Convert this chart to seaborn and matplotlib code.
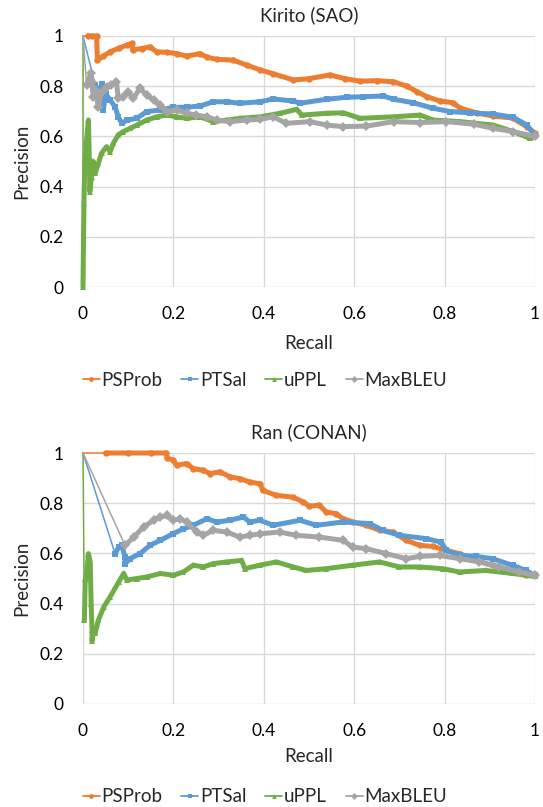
import matplotlib
matplotlib.use("Agg")
import matplotlib.pyplot as plt
from matplotlib.lines import Line2D
import pandas as pd
import seaborn as sns

# --- data: (recall, precision) per method ---
methods = ["PSProb", "PTSal", "uPPL", "MaxBLEU"]
colors = ["#ED7D31", "#5B9BD5", "#70AD47", "#A5A5A5"]
marker_shapes = ["o", "s", "^", "D"]
panel_titles = ["Kirito (SAO)", "Ran (CONAN)"]
ticks = [0, 0.2, 0.4, 0.6, 0.8, 1]
tick_labels = ["0", "0.2", "0.4", "0.6", "0.8", "1"]

kirito_psprob_r = [0, 0.01, 0.02, 0.03, 0.032, 0.045, 0.06, 0.08, 0.097, 0.108, 0.11, 0.13, 0.148,
                   0.163, 0.185, 0.207, 0.229, 0.259, 0.275, 0.296, 0.332, 0.362, 0.392, 0.42, 0.465,
                   0.5, 0.546, 0.58, 0.613, 0.65, 0.686, 0.717, 0.739, 0.761, 0.79, 0.819, 0.834,
                   0.872, 0.907, 0.951, 0.982, 1.0]
kirito_psprob_p = [1, 1, 1, 1, 0.904, 0.92, 0.937, 0.952, 0.964, 0.971, 0.945, 0.95, 0.957,
                   0.937, 0.935, 0.93, 0.92, 0.93, 0.915, 0.907, 0.904, 0.884, 0.865, 0.85, 0.825,
                   0.83, 0.845, 0.83, 0.82, 0.822, 0.818, 0.80, 0.778, 0.758, 0.741, 0.734, 0.713,
                   0.693, 0.681, 0.673, 0.638, 0.613]

kirito_ptsal_r = [0, 0.027, 0.035, 0.041, 0.045, 0.05, 0.06, 0.071, 0.078, 0.086, 0.097, 0.119,
                  0.141, 0.17, 0.2, 0.229, 0.259, 0.288, 0.318, 0.347, 0.392, 0.421, 0.465, 0.48,
                  0.539, 0.583, 0.62, 0.664, 0.687, 0.731, 0.775, 0.812, 0.856, 0.908, 0.952,
                  0.982, 1.0]
kirito_ptsal_p = [1, 0.805, 0.76, 0.81, 0.705, 0.77, 0.745, 0.718, 0.678, 0.652, 0.665, 0.672,
                  0.699, 0.705, 0.716, 0.716, 0.721, 0.738, 0.738, 0.732, 0.738, 0.749, 0.741, 0.732,
                  0.748, 0.756, 0.758, 0.761, 0.748, 0.734, 0.712, 0.699, 0.694, 0.689, 0.676,
                  0.645, 0.605]

kirito_uppl_r = [0, 0, 0.002, 0.004, 0.008, 0.012, 0.014, 0.015, 0.019, 0.023, 0.027, 0.034,
                 0.041, 0.052, 0.06, 0.067, 0.078, 0.089, 0.104, 0.119, 0.141, 0.163, 0.185, 0.207,
                 0.229, 0.259, 0.288, 0.318, 0.347, 0.392, 0.436, 0.473, 0.484, 0.539, 0.576,
                 0.613, 0.687, 0.746, 0.775, 0.834, 0.908, 0.952, 0.989, 1.0]
kirito_uppl_p = [1, 0, 0.333, 0.5, 0.586, 0.665, 0.506, 0.38, 0.44, 0.5, 0.453, 0.493,
                 0.533, 0.559, 0.539, 0.572, 0.606, 0.619, 0.632, 0.645, 0.665, 0.678, 0.685, 0.678,
                 0.672, 0.678, 0.659, 0.665, 0.672, 0.678, 0.692, 0.708, 0.685, 0.692, 0.694,
                 0.672, 0.678, 0.685, 0.665, 0.659, 0.645, 0.619, 0.592, 0.6]

kirito_maxbleu_r = [0, 0.008, 0.017, 0.019, 0.023, 0.027, 0.034, 0.041, 0.052, 0.063, 0.074, 0.078,
                    0.089, 0.1, 0.111, 0.126, 0.141, 0.156, 0.17, 0.185, 0.207, 0.229, 0.251, 0.274,
                    0.296, 0.325, 0.362, 0.392, 0.421, 0.45, 0.502, 0.539, 0.576, 0.627, 0.687,
                    0.746, 0.804, 0.864, 0.908, 0.952, 1.0]
kirito_maxbleu_p = [1, 0.805, 0.851, 0.818, 0.758, 0.785, 0.718, 0.778, 0.798, 0.805, 0.818, 0.751,
                    0.758, 0.778, 0.751, 0.791, 0.765, 0.745, 0.725, 0.699, 0.705, 0.692, 0.685, 0.678,
                    0.665, 0.659, 0.665, 0.668, 0.678, 0.652, 0.659, 0.645, 0.639, 0.641, 0.659,
                    0.655, 0.659, 0.649, 0.632, 0.619, 0.6]

ran_psprob_r = [0, 0.05, 0.1, 0.15, 0.184, 0.186, 0.2, 0.207, 0.229, 0.244, 0.266, 0.281, 0.303,
                0.325, 0.347, 0.369, 0.391, 0.398, 0.428, 0.465, 0.487, 0.501, 0.523, 0.538, 0.56,
                0.575, 0.597, 0.627, 0.656, 0.686, 0.715, 0.745, 0.774, 0.804, 0.833, 0.87, 0.906,
                0.951, 0.98, 1.0]
ran_psprob_p = [1, 1, 1, 1, 1, 0.98, 0.971, 0.951, 0.958, 0.938, 0.931, 0.918, 0.925,
                0.905, 0.898, 0.884, 0.878, 0.851, 0.831, 0.824, 0.805, 0.788, 0.792, 0.765, 0.758,
                0.739, 0.725, 0.712, 0.692, 0.685, 0.652, 0.632, 0.628, 0.612, 0.599, 0.572, 0.552,
                0.532, 0.512, 0.512]

ran_ptsal_r = [0, 0.071, 0.079, 0.086, 0.093, 0.093, 0.104, 0.126, 0.148, 0.171, 0.2, 0.222, 0.244,
               0.274, 0.296, 0.325, 0.355, 0.369, 0.391, 0.421, 0.48, 0.516, 0.575, 0.634, 0.663,
               0.7, 0.759, 0.792, 0.804, 0.833, 0.87, 0.906, 0.951, 0.98, 1.0]
ran_ptsal_p = [1, 0.599, 0.625, 0.632, 0.585, 0.559, 0.579, 0.599, 0.632, 0.652, 0.679, 0.698, 0.712,
               0.738, 0.725, 0.732, 0.745, 0.725, 0.732, 0.712, 0.732, 0.712, 0.725, 0.719, 0.692,
               0.672, 0.659, 0.645, 0.612, 0.592, 0.588, 0.579, 0.552, 0.532, 0.512]

ran_uppl_r = [0, 0.003, 0.005, 0.007, 0.012, 0.016, 0.018, 0.02, 0.02, 0.023, 0.027, 0.034, 0.046,
              0.06, 0.079, 0.09, 0.097, 0.119, 0.141, 0.171, 0.2, 0.222, 0.244, 0.266, 0.288, 0.318,
              0.351, 0.358, 0.391, 0.428, 0.465, 0.494, 0.538, 0.597, 0.656, 0.7, 0.745, 0.796,
              0.833, 0.891, 0.951, 1.0]
ran_uppl_p = [1, 0.333, 0.5, 0.5, 0.599, 0.565, 0.4, 0.294, 0.25, 0.294, 0.281, 0.334, 0.387,
              0.427, 0.486, 0.52, 0.494, 0.5, 0.506, 0.52, 0.513, 0.526, 0.553, 0.546, 0.559, 0.566,
              0.572, 0.539, 0.553, 0.566, 0.546, 0.532, 0.539, 0.553, 0.566, 0.546, 0.546, 0.539,
              0.526, 0.532, 0.52, 0.508]

ran_maxbleu_r = [0, 0.093, 0.112, 0.134, 0.156, 0.171, 0.185, 0.2, 0.215, 0.229, 0.252, 0.266,
                 0.288, 0.318, 0.347, 0.369, 0.391, 0.435, 0.472, 0.523, 0.575, 0.597, 0.627,
                 0.671, 0.715, 0.745, 0.789, 0.833, 0.877, 0.921, 0.965, 1.0]
ran_maxbleu_p = [1, 0.632, 0.665, 0.705, 0.732, 0.745, 0.751, 0.732, 0.738, 0.725, 0.685, 0.672,
                 0.692, 0.685, 0.665, 0.672, 0.678, 0.685, 0.672, 0.665, 0.652, 0.625, 0.619,
                 0.599, 0.579, 0.588, 0.592, 0.579, 0.566, 0.546, 0.526, 0.512]

panels = [
    [(kirito_psprob_r, kirito_psprob_p), (kirito_ptsal_r, kirito_ptsal_p),
     (kirito_uppl_r, kirito_uppl_p), (kirito_maxbleu_r, kirito_maxbleu_p)],
    [(ran_psprob_r, ran_psprob_p), (ran_ptsal_r, ran_ptsal_p),
     (ran_uppl_r, ran_uppl_p), (ran_maxbleu_r, ran_maxbleu_p)],
]


def to_frame(series):
    rows = []
    for name, (rec, prec) in zip(methods, series):
        for i, (r, p) in enumerate(zip(rec, prec)):
            rows.append({"method": name, "order": i, "Recall": r, "Precision": p})
    return pd.DataFrame(rows)


sns.set_theme(style="white")
plt.rcParams["font.family"] = ["Lato", "DejaVu Sans"]

fig = plt.figure(figsize=(5.43, 8.07), dpi=100)
W, H = 543, 807
# plot areas in pixels: (left, top, right, bottom)
areas = [(83, 36, 535, 287), (83, 453, 535, 704)]
title_y = [15, 432]
xlabel_y = [343, 757]
legend_y = [380, 797]

palette = dict(zip(methods, colors))
markers = dict(zip(methods, marker_shapes))

for k, (left, top, right, bottom) in enumerate(areas):
    ax = fig.add_axes([left / W, 1 - bottom / H, (right - left) / W, (bottom - top) / H])
    df = to_frame(panels[k])
    # thin connector for the whole curve (Excel draws a 1.5px line)
    sns.lineplot(data=df, x="Recall", y="Precision", hue="method", palette=palette,
                 estimator=None, sort=False, units="method", legend=False, ax=ax,
                 linewidth=1.1, clip_on=False)
    # dense marker band after the starting point
    body = df[df["order"] >= 1]
    sns.lineplot(data=body, x="Recall", y="Precision", hue="method", style="method",
                 palette=palette, markers=markers, dashes=False, estimator=None,
                 sort=False, units="method", legend=False, ax=ax,
                 linewidth=3.6, markersize=4.6, markeredgewidth=0, clip_on=False)
    ax.set_xlim(0, 1)
    ax.set_ylim(0, 1)
    ax.set_xticks(ticks)
    ax.set_xticklabels(tick_labels)
    ax.set_yticks(ticks)
    ax.set_yticklabels(tick_labels)
    ax.tick_params(axis="both", length=0, labelsize=12.5, colors="#000000")
    ax.tick_params(axis="x", pad=14)
    ax.tick_params(axis="y", pad=14)
    ax.grid(True, color="#D9D9D9", linewidth=1)
    ax.set_axisbelow(True)
    for s in ax.spines.values():
        s.set_visible(False)
    ax.set_xlabel("")
    ax.set_ylabel("")

    cx = (left + right) / 2 / W
    fig.text(cx, 1 - title_y[k] / H, panel_titles[k], ha="center", va="center", fontsize=13.5)
    fig.text(cx, 1 - xlabel_y[k] / H, "Recall", ha="center", va="center", fontsize=13.5)
    fig.text(22 / W, 1 - (top + bottom) / 2 / H, "Precision", ha="center", va="center",
             rotation=90, fontsize=13.5)

    handles = [Line2D([0], [0], color=c, marker=m, markersize=3.5, linewidth=1.3,
                      markeredgewidth=0) for c, m in zip(colors, marker_shapes)]
    fig.legend(handles, methods, loc="center", bbox_to_anchor=(265 / W, 1 - legend_y[k] / H),
               ncol=4, frameon=False, fontsize=13.5, handlelength=0.9, handletextpad=0.1,
               columnspacing=1.0)

fig.savefig("out.png", dpi=100)
